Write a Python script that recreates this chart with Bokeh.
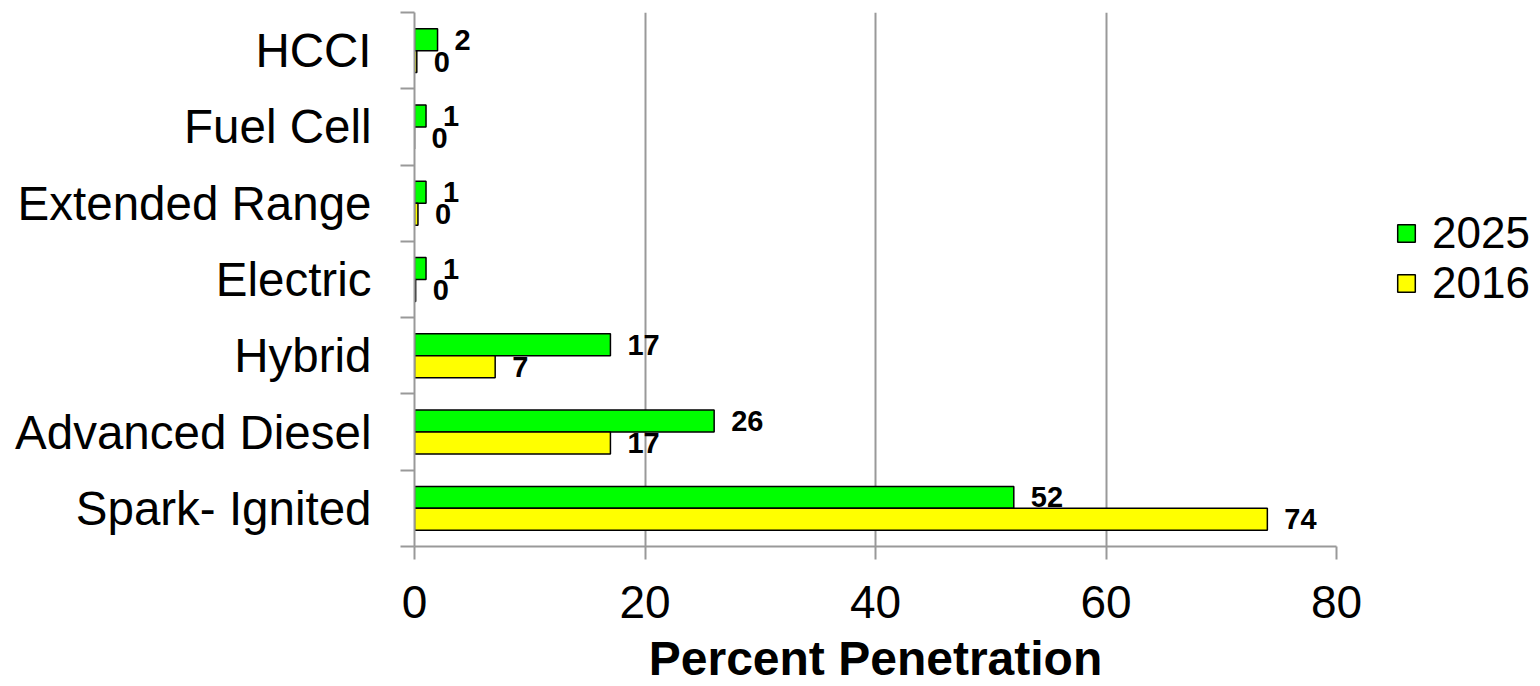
from bokeh.plotting import figure
from bokeh.models import (ColumnDataSource, Range1d, FixedTicker, Legend, LegendItem)
from bokeh.core.properties import value
from bokeh.embed import file_html
from bokeh.resources import INLINE

# Powertrain technologies, listed bottom to top
categories = ["Spark- Ignited", "Advanced Diesel", "Hybrid", "Electric",
              "Extended Range", "Fuel Cell", "HCCI"]
share_2025 = [52, 26, 17, 1, 1, 1, 2]
share_2016 = [74, 17, 7, 0.1, 0.3, 0.0, 0.2]
x_ticks = [0, 20, 40, 60, 80]

FONT = "Liberation Sans"
BAR_H = 0.288

centers = [i + 0.5 for i in range(len(categories))]

src_new = ColumnDataSource(dict(
    y=[c + BAR_H / 2 for c in centers], v=share_2025,
    lbl=[f"{v:.0f}" for v in share_2025]))
src_old = ColumnDataSource(dict(
    y=[c - BAR_H / 2 for c in centers], v=share_2016,
    lbl=[f"{v:.0f}" for v in share_2016]))

p = figure(frame_width=922, frame_height=534, output_backend="svg",
           toolbar_location=None,
           x_range=Range1d(0, 80), y_range=Range1d(0, len(categories)),
           min_border_left=414, min_border_right=204,
           min_border_top=12, min_border_bottom=140)
p.outline_line_color = None
p.background_fill_color = "white"

r_new = p.hbar(y="y", right="v", left=0, height=BAR_H, source=src_new,
               fill_color="#00ff00", line_color="black", line_width=1.5)
r_old = p.hbar(y="y", right="v", left=0, height=BAR_H, source=src_old,
               fill_color="#ffff00", line_color="black", line_width=1.5)

for src in (src_new, src_old):
    p.text(x="v", y="y", text="lbl", source=src, x_offset=17,
           text_font=value(FONT), text_font_size="29px", text_font_style="bold",
           text_color="black", text_baseline="middle", text_align="left")

# x axis
p.xaxis.ticker = FixedTicker(ticks=x_ticks)
p.xaxis.axis_line_color = "#999999"
p.xaxis.axis_line_width = 2
p.xaxis.major_tick_line_color = "#999999"
p.xaxis.major_tick_line_width = 2
p.xaxis.major_tick_out = 13
p.xaxis.major_tick_in = 0
p.xaxis.minor_tick_line_color = None
p.xaxis.major_label_text_font = FONT
p.xaxis.major_label_text_font_size = "46px"
p.xaxis.major_label_text_color = "black"
p.xaxis.major_label_standoff = 26
p.xaxis.axis_label = "Percent Penetration"
p.xaxis.axis_label_text_font = FONT
p.xaxis.axis_label_text_font_size = "48px"
p.xaxis.axis_label_text_font_style = "bold"
p.xaxis.axis_label_text_color = "black"
p.xaxis.axis_label_standoff = 11

# y axis: labels at band centres, tick marks at band boundaries
p.yaxis.ticker = FixedTicker(ticks=centers,
                             minor_ticks=list(range(len(categories) + 1)))
p.yaxis.major_label_overrides = {c: name for c, name in zip(centers, categories)}
p.yaxis.axis_line_color = "#999999"
p.yaxis.axis_line_width = 2
p.yaxis.major_tick_line_color = None
p.yaxis.major_tick_out = 0
p.yaxis.major_tick_in = 0
p.yaxis.minor_tick_line_color = "#999999"
p.yaxis.minor_tick_line_width = 2
p.yaxis.minor_tick_out = 14
p.yaxis.minor_tick_in = 0
p.yaxis.major_label_text_font = FONT
p.yaxis.major_label_text_font_size = "47.5px"
p.yaxis.major_label_text_color = "black"
p.yaxis.major_label_standoff = 29

p.ygrid.grid_line_color = None
p.xgrid.ticker = FixedTicker(ticks=x_ticks)
p.xgrid.grid_line_color = "#999999"
p.xgrid.grid_line_width = 2

legend = Legend(items=[LegendItem(label="2025", renderers=[r_new]),
                       LegendItem(label="2016", renderers=[r_old])],
                location=(59, 238), padding=0, margin=0, spacing=0,
                glyph_width=22, glyph_height=22, label_standoff=15,
                label_text_font=FONT, label_text_font_size="44px",
                label_text_color="black", border_line_color=None,
                background_fill_alpha=0)
p.add_layout(legend, "right")

open("out.html", "w").write(file_html(p, INLINE))
